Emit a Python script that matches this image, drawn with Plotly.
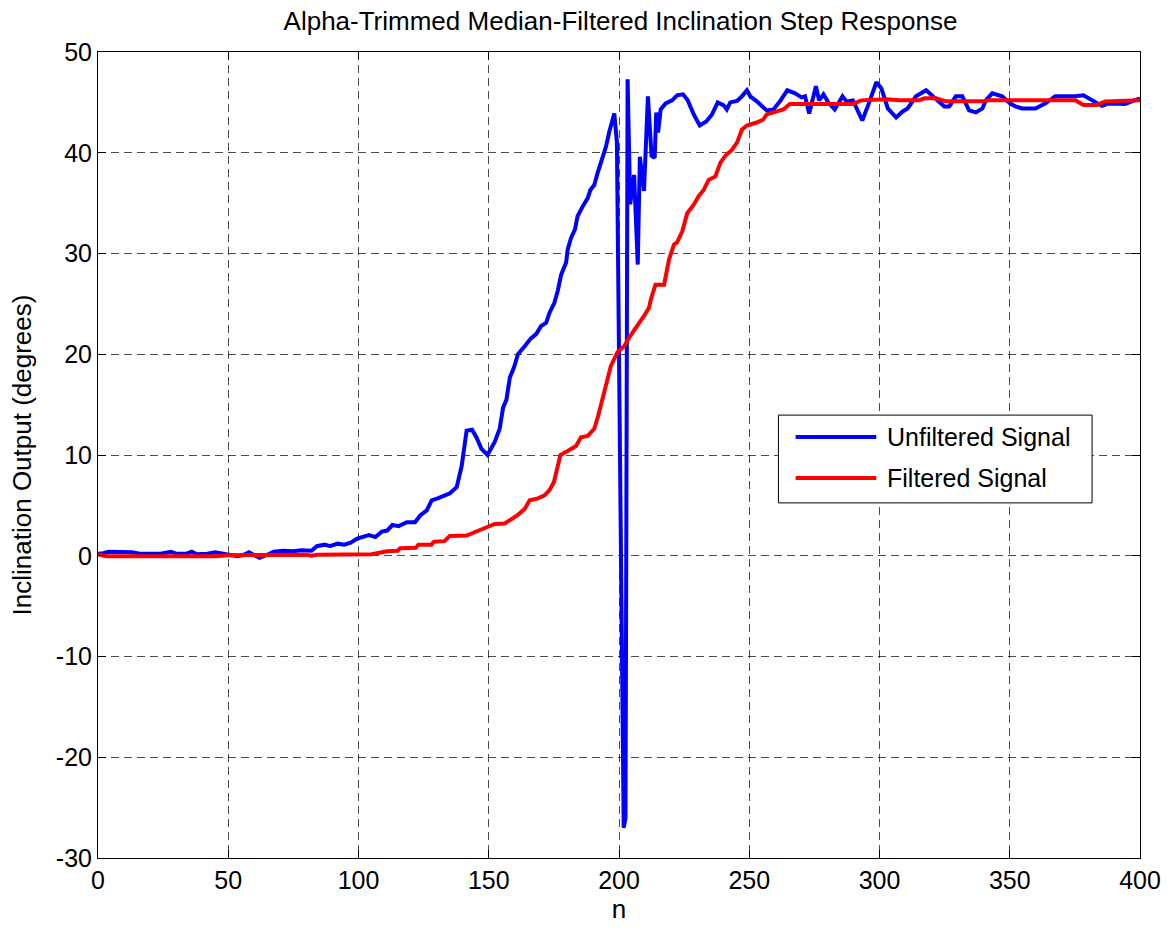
import plotly.graph_objects as go

# Unfiltered inclination samples (n, degrees)
n_unfiltered = [
    0, 2, 4, 8, 13, 16, 20, 24, 28, 30, 34, 36, 38, 42, 45, 48, 51, 53.5, 56, 58,
    60, 62, 65, 67.5, 71, 75, 78, 82, 84, 87, 89, 92, 94.5, 97, 99.5, 102, 104,
    106.5, 109, 111, 113, 115.4, 118.6, 121.7, 123.7, 126.2, 128.1, 130.4, 132.6,
    135.1, 137.7, 139.6, 141.5, 143.6, 145.3, 147.2, 149.5, 152.3, 154.2, 155.5,
    156.8, 158.1, 159.7, 161.2, 163.8, 166.1, 168.2, 170.1, 172, 173.3, 175.2,
    176.5, 177.8, 179.7, 180.3, 181.6, 183.1, 184.1, 186.1, 188, 189, 190.5,
    191.8, 193.7, 195, 196.3, 198.2, 199.2, 201.8, 202.5, 203.3, 204.3, 205.8,
    207.2, 208, 209.6, 211.1, 212.5, 213.7, 214.3, 215, 216, 217.9, 220.4, 222.3,
    224.6, 226.4, 228.7, 231, 233.5, 235.7, 237.9, 240.2, 241.4, 242.7, 245.3,
    247.2, 249.1, 250.4, 252.9, 256.7, 259.3, 261.8, 264.6, 267.6, 270.1, 271.4,
    273, 275.6, 276.8, 278.5, 280.3, 282.8, 285.8, 287.3, 289.8, 293.4, 296.2,
    298.8, 300.7, 303.2, 306.4, 308.9, 310.8, 314, 317.9, 321.7, 324.9, 326.8,
    329.3, 331.8, 333.1, 334.4, 337, 339.5, 340.8, 343.3, 347.1, 350.3, 352.2,
    354.8, 359.9, 363.7, 367.5, 375.2, 378.3, 381.5, 385.4, 388, 391.8, 394.3,
    396.9, 400,
]
y_unfiltered = [
    0.2, 0.25, 0.4, 0.35, 0.35, 0.2, 0.2, 0.2, 0.4, 0.2, 0.2, 0.4, 0.15, 0.2, 0.35,
    0.2, 0.05, -0.05, 0.1, 0.35, 0.05, -0.2, 0.1, 0.4, 0.5, 0.45, 0.55, 0.5, 0.95,
    1.1, 0.95, 1.2, 1.1, 1.3, 1.7, 1.95, 2.05, 1.85, 2.4, 2.5, 3.05, 2.94, 3.33,
    3.33, 4.0, 4.5, 5.5, 5.7, 5.9, 6.2, 6.8, 8.9, 12.4, 12.5, 11.75, 10.6, 10.0,
    11.3, 12.6, 14.7, 15.5, 17.7, 18.7, 20.0, 20.8, 21.55, 22.0, 22.8, 23.1, 24.1,
    25.1, 26.3, 27.9, 29.1, 30.4, 31.55, 32.4, 33.7, 34.7, 35.5, 36.3, 36.8, 38.0,
    39.5, 40.6, 42.1, 43.9, 41.0, -27.0, -26.0, 47.3, 34.9, 37.8, 28.9, 39.6, 36.2,
    45.6, 39.7, 39.5, 44.0, 42.0, 44.3, 44.9, 45.2, 45.7, 45.8, 45.2, 43.8, 42.7,
    43.1, 43.8, 45.0, 44.7, 44.3, 45.0, 45.15, 45.6, 46.2, 45.6, 45.1, 44.2, 44.3,
    45.1, 46.2, 45.9, 45.5, 45.6, 43.9, 46.6, 45.2, 45.8, 45.0, 44.3, 45.6, 45.1,
    45.2, 43.2, 45.1, 47.0, 46.4, 44.4, 43.5, 44.1, 44.4, 45.6, 46.2, 45.4, 44.6,
    44.6, 45.6, 45.6, 44.8, 44.2, 44.0, 44.4, 45.2, 45.9, 45.6, 44.85, 44.6, 44.4,
    44.4, 44.9, 45.6, 45.6, 45.7, 45.2, 44.65, 44.9, 44.85, 44.85, 45.1, 45.4,
]

# Alpha-trimmed median filter output (n, degrees)
n_filtered = [
    0, 3, 45, 50, 80, 82, 84, 105, 108, 111, 115, 116, 122, 123, 128, 129, 133,
    135, 141.5, 143.4, 146.6, 149.8, 152.3, 156.1, 158.7, 161.2, 163.8, 165.7,
    168.9, 171.4, 173.3, 175, 176.5, 177.5, 180.3, 183.5, 185.4, 188, 190.5,
    191.8, 194.3, 196.9, 199.4, 202, 203.9, 207.1, 209.6, 211.5, 212.2, 214,
    217.3, 219.2, 221.1, 222.3, 224.3, 226.2, 228.7, 230.6, 232.5, 234.4, 237,
    238.9, 240.8, 243.4, 245.3, 247.2, 249.1, 252.9, 255.4, 256.7, 259.9, 263.1,
    265.6, 289.8, 293, 302.6, 307.7, 315.3, 317.2, 321.7, 325.5, 339.5, 342,
    375.2, 378.3, 383.5, 386.6, 400,
]
y_filtered = [
    0.15, -0.05, -0.05, 0.05, 0.1, 0.0, 0.1, 0.15, 0.3, 0.45, 0.5, 0.75, 0.8, 1.1,
    1.1, 1.4, 1.45, 1.95, 2.0, 2.2, 2.6, 2.9, 3.15, 3.2, 3.6, 4.06, 4.65, 5.5, 5.7,
    6.0, 6.5, 7.3, 8.9, 10.0, 10.4, 10.9, 11.75, 11.9, 12.6, 13.7, 16.2, 18.85,
    20.2, 20.8, 21.65, 22.8, 23.8, 24.6, 25.4, 26.9, 26.9, 29.4, 30.9, 31.1, 32.2,
    34.0, 34.85, 35.7, 36.3, 37.3, 37.65, 39.0, 39.7, 40.3, 41.0, 42.3, 42.7, 43.0,
    43.3, 43.8, 44.1, 44.3, 44.85, 44.85, 45.2, 45.3, 45.2, 45.2, 45.4, 45.4, 45.1,
    45.1, 45.2, 45.2, 44.75, 44.75, 45.1, 45.2,
]

series_names = ["Unfiltered Signal", "Filtered Signal"]
series_colors = ["#0000FF", "#FF0000"]

x_ticks = [0, 50, 100, 150, 200, 250, 300, 350, 400]
y_ticks = [-30, -20, -10, 0, 10, 20, 30, 40, 50]
y_tick_labels = ["-30", "-20", "-10", "0", "10", "20", "30", "40", "50"]

FONT = "Liberation Sans, Arial, Helvetica, sans-serif"
LINE_W = 4

fig = go.Figure()
fig.add_trace(go.Scatter(x=n_unfiltered, y=y_unfiltered, mode="lines",
                         name=series_names[0], showlegend=False,
                         line=dict(color=series_colors[0], width=LINE_W)))
fig.add_trace(go.Scatter(x=n_filtered, y=y_filtered, mode="lines",
                         name=series_names[1], showlegend=False,
                         line=dict(color=series_colors[1], width=LINE_W)))

axis_common = dict(
    showline=True, linecolor="black", linewidth=1, mirror="allticks",
    ticks="inside", ticklen=8, tickcolor="black", tickwidth=1,
    showgrid=True, gridcolor="rgba(0,0,0,0.7)", gridwidth=1, griddash="8px,5px",
    zeroline=False, tickfont=dict(family=FONT, size=25, color="black"),
)

fig.update_xaxes(range=[0, 400], tickvals=x_ticks,
                 title=dict(text="n", font=dict(family=FONT, size=26, color="black"),
                            standoff=4),
                 **axis_common)
fig.update_yaxes(range=[-30, 50], tickvals=y_ticks, ticktext=y_tick_labels,
                 title=dict(text="Inclination Output (degrees)",
                            font=dict(family=FONT, size=26, color="black"),
                            standoff=16),
                 **axis_common)

# Legend box drawn in paper coordinates
lx0, lx1, ly0, ly1 = 0.653, 0.954, 0.4406, 0.5495
row_y = [0.5223, 0.4715]
shapes = [dict(type="rect", xref="paper", yref="paper", x0=lx0, x1=lx1, y0=ly0, y1=ly1,
               line=dict(color="black", width=1), fillcolor="white", layer="above")]
annotations = []
for name, color, ry in zip(series_names, series_colors, row_y):
    shapes.append(dict(type="line", xref="paper", yref="paper", x0=0.6695, x1=0.7469,
                       y0=ry, y1=ry, line=dict(color=color, width=LINE_W), layer="above"))
    annotations.append(dict(xref="paper", yref="paper", x=0.7555, y=ry, text=name,
                            showarrow=False, xanchor="left", yanchor="middle",
                            font=dict(family=FONT, size=25, color="black")))

fig.update_layout(
    width=1173, height=928,
    margin=dict(l=98, r=24, t=52, b=66),
    paper_bgcolor="white", plot_bgcolor="white",
    title=dict(text="Alpha-Trimmed Median-Filtered Inclination Step Response",
               x=620.5 / 1173, xanchor="center", y=0.977, yanchor="middle",
               font=dict(family=FONT, size=26, color="black")),
    shapes=shapes, annotations=annotations,
)

fig.write_html("out.html")
